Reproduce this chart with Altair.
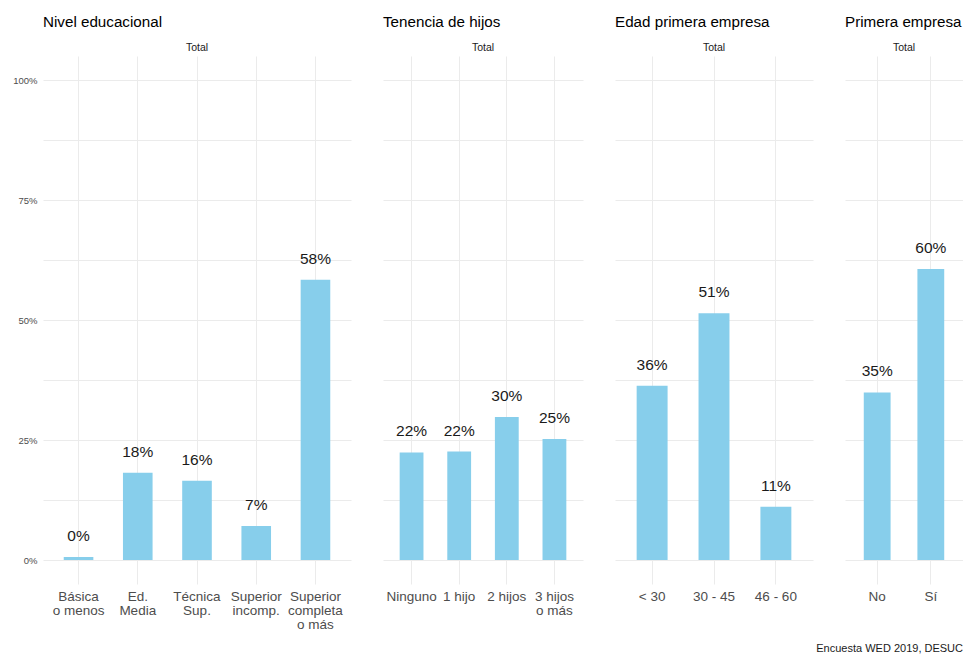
import altair as alt
import pandas as pd

FONT = "Liberation Sans"

# Panel 1: Nivel educacional
p1_cats = ["Básica|o menos", "Ed.|Media", "Técnica|Sup.", "Superior|incomp.", "Superior|completa|o más"]
p1_vals = [0.006, 0.182, 0.165, 0.071, 0.584]
p1_labels = ["0%", "18%", "16%", "7%", "58%"]

# Panel 2: Tenencia de hijos
p2_cats = ["Ninguno", "1 hijo", "2 hijos", "3 hijos|o más"]
p2_vals = [0.224, 0.226, 0.298, 0.252]
p2_labels = ["22%", "22%", "30%", "25%"]

# Panel 3: Edad primera empresa
p3_cats = ["< 30", "30 - 45", "46 - 60"]
p3_vals = [0.363, 0.514, 0.111]
p3_labels = ["36%", "51%", "11%"]

# Panel 4: Primera empresa
p4_cats = ["No", "Sí"]
p4_vals = [0.349, 0.606]
p4_labels = ["35%", "60%"]

y_values = [i * 0.125 for i in range(9)]

GRID = "#ebebeb"
AXIS_TXT = "#4d4d4d"
BAR = "#87CEEB"
H = 528


def panel(title, cats, vals, labels, width, show_y):
    df = pd.DataFrame({"cat": cats, "val": vals, "lab": labels, "grp": "Total"})
    x = alt.X(
        "cat:N", sort=cats, title=None,
        scale=alt.Scale(paddingInner=0.5, paddingOuter=0.35),
        axis=alt.Axis(
            labelExpr="split(datum.label, '|')", labelAngle=0,
            labelFontSize=13.5, labelFont=FONT, labelColor=AXIS_TXT,
            labelLineHeight=14.3, labelPadding=5, labelBaseline="top",
            ticks=False, domain=False, grid=True, gridColor=GRID,
            gridWidth=1, bandPosition=0.5,
        ),
    )
    if show_y:
        yaxis = alt.Axis(
            values=y_values,
            labelExpr="(datum.value * 8) % 2 == 0 ? format(datum.value, '.0%') : ''",
            labelFontSize=9.5, labelFont=FONT, labelColor=AXIS_TXT,
            labelPadding=6, ticks=False, domain=False, grid=True,
            gridColor=GRID, gridWidth=1, title=None,
        )
    else:
        yaxis = alt.Axis(
            values=y_values, labels=False, ticks=False, domain=False,
            grid=True, gridColor=GRID, gridWidth=1, title=None,
            minExtent=0, maxExtent=0,
        )
    y = alt.Y("val:Q", title=None,
              scale=alt.Scale(domain=[-0.05, 1.05], nice=False, zero=False),
              axis=yaxis)
    bars = alt.Chart().mark_bar(color=BAR).encode(x=x, y=y, y2=alt.datum(0))
    text = alt.Chart().mark_text(
        dy=-16, baseline="alphabetic", fontSize=15.5, font=FONT, color="#1a1a1a"
    ).encode(x=x, y=y, text="lab:N")
    return alt.layer(bars, text, data=df).properties(width=width, height=H).facet(
        column=alt.Column(
            "grp:N", title=None,
            header=alt.Header(labelFontSize=10.5, labelFont=FONT,
                              labelColor="#1a1a1a", labelPadding=3),
        )
    ).properties(
        title=alt.TitleParams(title, anchor="start", frame="group", fontSize=15.2,
                              font=FONT, fontWeight="normal", color="#000000",
                              offset=12)
    )


c1 = panel("Nivel educacional", p1_cats, p1_vals, p1_labels, 308, True)
c2 = panel("Tenencia de hijos", p2_cats, p2_vals, p2_labels, 200, False)
c3 = panel("Edad primera empresa", p3_cats, p3_vals, p3_labels, 198, False)
c4 = panel("Primera empresa", p4_cats, p4_vals, p4_labels, 118, False)

chart = alt.hconcat(c1, c2, c3, c4, spacing=32).properties(
    title=alt.TitleParams("Encuesta WED 2019, DESUC", orient="bottom", anchor="end",
                          fontSize=11, font=FONT, fontWeight="normal",
                          color="#1a1a1a", offset=11.5),
    padding={"left": 4, "top": 7, "right": 0, "bottom": 0},
).configure_view(stroke=None)

chart.save("out.html", embed_options={"renderer": "svg", "actions": False})
